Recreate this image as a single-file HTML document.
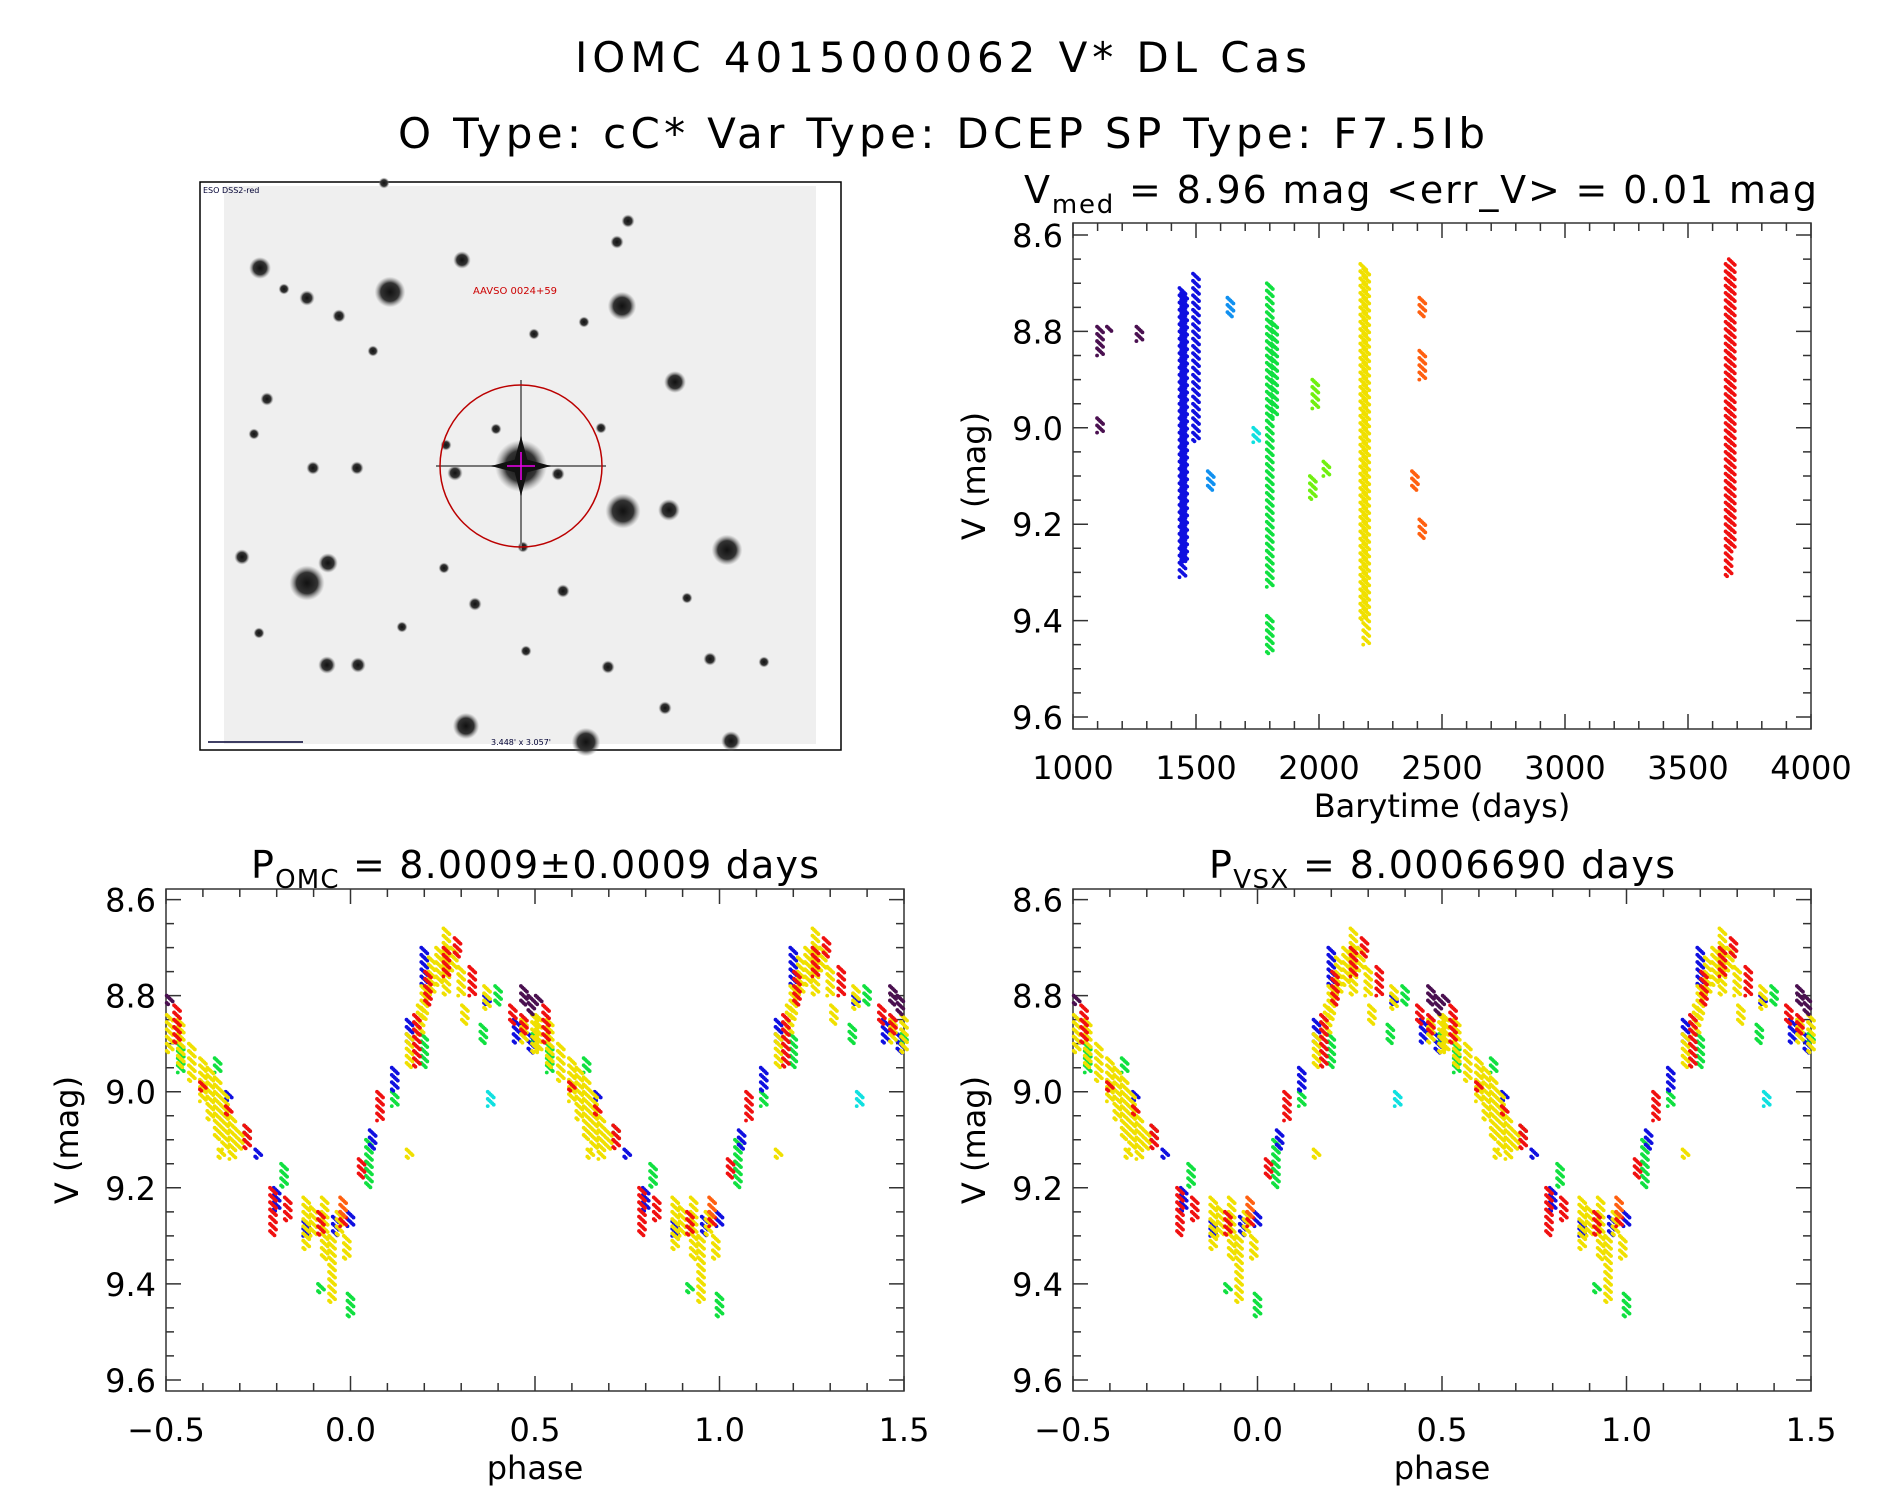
<!DOCTYPE html>
<html><head><meta charset="utf-8"><style>
body{margin:0;background:#fff;}
svg{display:block;font-family:"DejaVu Sans","Liberation Sans",sans-serif;}
</style></head><body>
<svg id="s" width="1889" height="1494" xmlns="http://www.w3.org/2000/svg">
<defs><radialGradient id="sg"><stop offset="0" stop-color="#111"/><stop offset="0.6" stop-color="#333"/><stop offset="1" stop-color="#888" stop-opacity="0"/></radialGradient></defs>
<rect width="1889" height="1494" fill="#fff"/>
<text x="575" y="72" font-size="42" textLength="732" lengthAdjust="spacing">IOMC 4015000062   V* DL Cas</text>
<text x="398" y="148" font-size="42" textLength="1087" lengthAdjust="spacing">O Type: cC*  Var Type: DCEP  SP Type: F7.5Ib</text>
<g id="img">
<rect x="200" y="182" width="641" height="568" fill="#fff" stroke="#000" stroke-width="1.5"/>
<rect x="224" y="186" width="592" height="558" fill="#efefef"/>
</g>
<text x="1024" y="203" font-size="38" textLength="793" lengthAdjust="spacing">V<tspan font-size="26" dy="10">med</tspan><tspan dy="-10"> = 8.96 mag &lt;err_V&gt; = 0.01 mag</tspan></text>
<text x="251" y="878" font-size="38" textLength="568" lengthAdjust="spacing">P<tspan font-size="26" dy="10">OMC</tspan><tspan dy="-10"> = 8.0009±0.0009 days</tspan></text>
<text x="1209" y="878" font-size="38" textLength="466" lengthAdjust="spacing">P<tspan font-size="26" dy="10">VSX</tspan><tspan dy="-10"> = 8.0006690 days</tspan></text>
</svg>
<script>
const NS='http://www.w3.org/2000/svg';
const svg=document.getElementById('s');
// ---- data ----
const timeTicks=[1000,1500,2000,2500,3000,3500,4000];
const magTicks=[8.6,8.8,9.0,9.2,9.4,9.6];
const phaseTicks=[-0.5,0.0,0.5,1.0,1.5];
// [time, magTop, magBottom]
const tsPurple=[[1110,8.79,8.85],[1110,8.98,9.01],[1150,8.79,8.8],[1270,8.79,8.82]];
const tsBlue=[[1445,8.71,9.31],[1452,8.72,9.28],[1500,8.68,9.03]];
const tsSky=[[1560,9.09,9.13],[1640,8.73,8.77]];
const tsCyan=[[1745,9.0,9.03]];
const tsGreen=[[1800,8.7,9.33],[1800,9.39,9.47],[1818,8.78,8.98]];
const tsLime=[[1975,9.1,9.15],[1985,8.9,8.96],[2030,9.07,9.1]];
const tsYellow=[[2180,8.66,9.4],[2192,8.67,9.45]];
const tsOrange=[[2390,9.09,9.13],[2420,8.73,8.77],[2420,8.84,8.9],[2420,9.19,9.23]];
const tsRed=[[3665,8.66,9.31],[3678,8.65,9.25]];
// phase streaks [phase, magTop, magBottom]
const phYellow=[[-0.49,8.84,8.92],[-0.46,8.85,8.95],[-0.43,8.9,8.98],[-0.4,8.93,9.02],[-0.38,8.95,9.06],[-0.36,8.97,9.1],[-0.34,9.0,9.12],[-0.32,9.05,9.14],[-0.3,9.08,9.12],[-0.35,9.12,9.14],[-0.12,9.22,9.33],[-0.1,9.24,9.3],[-0.07,9.22,9.35],[-0.05,9.3,9.44],[-0.03,9.25,9.3],[-0.01,9.3,9.35],[0.16,9.12,9.14],[0.16,8.88,8.95],[0.19,8.82,8.88],[0.2,8.78,8.85],[0.22,8.72,8.8],[0.24,8.7,8.78],[0.26,8.66,8.8],[0.28,8.7,8.75],[0.3,8.74,8.8],[0.31,8.82,8.86],[0.37,8.78,8.83],[0.47,8.85,8.9],[0.5,8.84,8.92]];
const phRed=[[-0.47,8.82,8.9],[-0.4,8.98,9.0],[-0.33,9.03,9.05],[-0.28,9.07,9.12],[-0.21,9.2,9.3],[-0.17,9.22,9.27],[-0.08,9.25,9.3],[-0.02,9.25,9.28],[0.03,9.14,9.18],[0.08,9.0,9.06],[0.18,8.84,8.95],[0.21,8.75,8.82],[0.26,8.7,8.76],[0.29,8.68,8.72],[0.33,8.74,8.8],[0.44,8.82,8.86],[0.47,8.84,8.88]];
const phBlue=[[-0.33,9.0,9.02],[-0.25,9.12,9.14],[-0.2,9.2,9.25],[-0.12,9.27,9.3],[-0.04,9.26,9.3],[0.0,9.25,9.28],[0.06,9.08,9.12],[0.12,8.95,9.0],[0.16,8.85,8.9],[0.2,8.7,8.78],[0.37,8.8,8.82],[0.45,8.85,8.9],[0.49,8.88,8.92]];
const phGreen=[[-0.46,8.9,8.96],[-0.36,8.93,8.96],[-0.28,9.07,9.1],[-0.18,9.15,9.2],[-0.08,9.4,9.42],[0.0,9.42,9.47],[0.05,9.1,9.2],[0.12,9.0,9.03],[0.2,8.88,8.95],[0.36,8.86,8.9],[0.4,8.78,8.82],[0.5,8.88,8.9]];
const phCyan=[[0.38,9.0,9.03]];
const phPurple=[[-0.49,8.8,8.82],[0.49,8.8,8.84],[0.47,8.78,8.82]];
const phOrange=[[-0.02,9.22,9.26]];
// sky image stars [x, y, radius]
const stars=[[260,268,10],[390,292,14],[307,298,7],[462,260,8],[622,306,13],[675,382,10],[669,510,10],[623,511,16],[727,550,14],[307,583,16],[328,563,9],[242,557,7],[357,468,6],[455,473,7],[563,591,6],[327,665,8],[358,665,7],[466,726,12],[586,742,13],[731,741,9],[665,708,6],[267,399,6],[313,468,6],[534,334,5],[284,289,5],[339,316,6],[373,351,5],[446,445,5],[496,429,5],[558,474,6],[601,428,5],[617,242,6],[628,221,6],[523,547,5],[608,667,6],[710,659,6],[764,662,5],[402,627,5],[526,651,5],[259,633,5],[475,604,6],[444,568,5],[687,598,5],[254,434,5],[584,322,5],[384,183,5]];
// ---- axes helpers ----
function el(t,a,p){const e=document.createElementNS(NS,t);for(const k in a)e.setAttribute(k,a[k]);(p||svg).appendChild(e);return e;}
function makeAxes(name,X0,X1,Y0,Y1,xmin,xmax,ymin,ymax,xTicks,xMinorStep,xLabel){
  const g=el('g',{});
  
  
  const sx=v=>X0+(v-xmin)/(xmax-xmin)*(X1-X0);
  const sy=v=>Y0+(v-ymin)/(ymax-ymin)*(Y1-Y0);
  const frame=el('rect',{x:X0,y:Y0,width:X1-X0,height:Y1-Y0,fill:'none',stroke:'#333','stroke-width':1.5},g);
  
  
  let d='';
  const nx=Math.round((xmax-xmin)/xMinorStep);
  for(let i=0;i<=nx;i++){const v=xmin+i*xMinorStep;const x=sx(v);const major=xTicks.some(t=>Math.abs(t-v)<1e-6);const L=major?15:8;d+=`M${x},${Y1}v${-L}M${x},${Y0}v${L}`;}
  for(let v=8.6;v<=9.6+1e-6;v+=0.05){const y=sy(v);const major=magTicks.some(t=>Math.abs(t-v)<1e-6);const L=major?15:8;d+=`M${X0},${y}h${L}M${X1},${y}h${-L}`;}
  el('path',{d:d,stroke:'#333','stroke-width':1.5,fill:'none'},g);
  magTicks.forEach(v=>{const t=el('text',{x:X0-10,y:sy(v)+12,'font-size':32,'text-anchor':'end'},g);t.textContent=v.toFixed(1);
    
    });
  xTicks.forEach(v=>{const t=el('text',{x:sx(v),y:Y1+50,'font-size':32,'text-anchor':'middle'},g);t.textContent=(xmax<10?(v<0?'\u2212'+Math.abs(v).toFixed(1):v.toFixed(1)):String(v));
    
    });
  const xl=el('text',{x:(X0+X1)/2,y:Y1+88,'font-size':32,'text-anchor':'middle'},g);xl.textContent=xLabel;
  
  
  const yl=el('text',{x:0,y:0,'font-size':32,'text-anchor':'middle',transform:`translate(${X0-88},${(Y0+Y1)/2}) rotate(-90)`},g);yl.textContent='V (mag)';
  
  
  return {g,sx,sy};
}
function streakDots(ax,arr,color,name,dup){
  const g=el('g',{fill:color},ax.g);
  
  
  arr.forEach(s=>{
    const xs=dup?[s[0],s[0]+1]:[s[0]];
    xs.forEach(xv=>{
      if(xv<-0.5-1e-9||(dup&&xv>1.5+1e-9))return;
      let i=0;
      for(let m=s[1];m<=s[2]+1e-9;m+=0.003){
        const c=el('circle',{cx:ax.sx(xv)+((i%5)-2)*1.5,cy:ax.sy(m),r:1.9},g);
        
        
        i++;
      }
    });
  });
}
// sky image
const ig=document.getElementById('img');
stars.forEach(s=>{const c=el('circle',{cx:s[0],cy:s[1],r:s[2]*1.1,fill:'url(#sg)'},ig);
  
  });
el('path',{d:'M436,466h170M521,380v170',stroke:'#777','stroke-width':2},ig);
el('circle',{cx:521,cy:466,r:26,fill:'url(#sg)'},ig);
el('path',{d:'M521,436l8,30l-8,30l-8,-30zM491,466l30,-8l30,8l-30,8z',fill:'#111'},ig);
el('circle',{cx:521,cy:466,r:81,fill:'none',stroke:'#b00','stroke-width':1.5},ig);
el('path',{d:'M507,466h28M521,452v28',stroke:'#e0e','stroke-width':1.5},ig);
const lbl=el('text',{x:515,y:294,'font-size':10,fill:'#c00','text-anchor':'middle'},ig);lbl.textContent='AAVSO 0024+59';
const l2=el('text',{x:203,y:193,'font-size':8,fill:'#003'},ig);l2.textContent='ESO DSS2-red';
const l3=el('text',{x:521,y:745,'font-size':8,fill:'#003','text-anchor':'middle'},ig);l3.textContent='3.448\' x 3.057\'';
el('path',{d:'M208,742h95',stroke:'#003','stroke-width':1.5},ig);
// time series
const A=makeAxes('lightcurve-plot',1073,1811,223,729,1000,4000,8.575,9.625,timeTicks,100,'Barytime (days)');
streakDots(A,tsPurple,'#4a1050','purple-series',false);
streakDots(A,tsBlue,'#1010e0','blue-series',false);
streakDots(A,tsSky,'#1090f0','sky-series',false);
streakDots(A,tsCyan,'#10e0e0','cyan-series',false);
streakDots(A,tsGreen,'#10e040','green-series',false);
streakDots(A,tsLime,'#70f010','lime-series',false);
streakDots(A,tsYellow,'#f0e000','yellow-series',false);
streakDots(A,tsOrange,'#ff6010','orange-series',false);
streakDots(A,tsRed,'#f01010','red-series',false);
// phase plots
[['omc-phase-plot',166,904],['vsx-phase-plot',1073,1811]].forEach(p=>{
  const B=makeAxes(p[0],p[1],p[2],889,1391,-0.5,1.5,8.578,9.623,phaseTicks,0.1,'phase');
  streakDots(B,phGreen,'#10e040','green-series',true);
  streakDots(B,phCyan,'#10e0e0','cyan-series',true);
  streakDots(B,phBlue,'#1010e0','blue-series',true);
  streakDots(B,phYellow,'#f0e000','yellow-series',true);
  streakDots(B,phRed,'#f01010','red-series',true);
  streakDots(B,phOrange,'#ff6010','orange-series',true);
  streakDots(B,phPurple,'#4a1050','purple-series',true);
});
</script>
</body></html>
